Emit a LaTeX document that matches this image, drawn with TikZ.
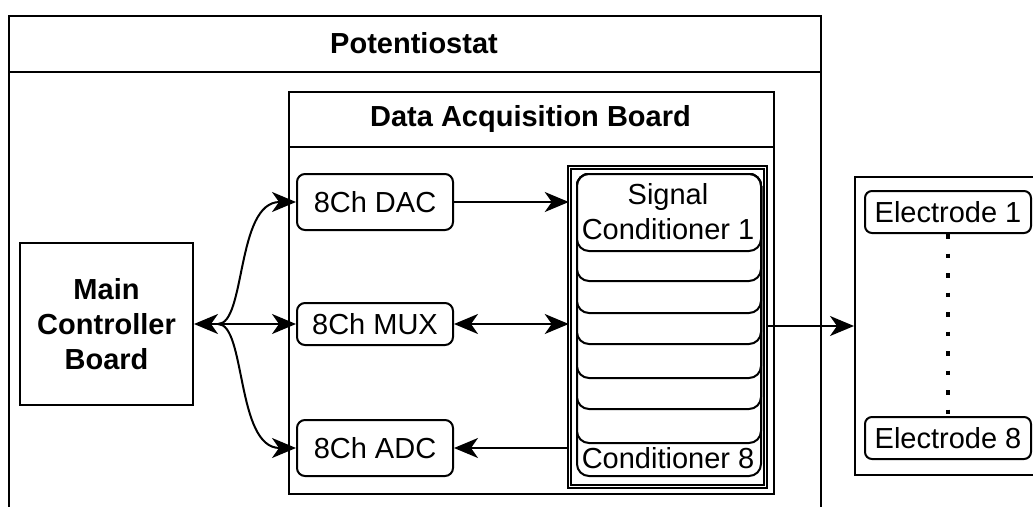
\documentclass[tikz,border=0pt]{standalone}
\usepackage{fontspec}
\setmainfont{Liberation Sans}
\usetikzlibrary{arrows.meta,calc}
\tikzset{
  every node/.style={font=\fontsize{29}{35}\selectfont, inner sep=0pt},
  box/.style={draw, line width=2pt, fill=white},
  rbox/.style={box, rounded corners=8pt},
  cond/.style={box, rounded corners=12pt, minimum width=184pt, anchor=north west},
  arr/.style={line width=2pt, -{Stealth[length=24pt,width=20pt,inset=7pt]}},
  darr/.style={line width=2pt, {Stealth[length=24pt,width=20pt,inset=7pt]}-{Stealth[length=24pt,width=20pt,inset=7pt]}},
  title/.style={font=\fontsize{29}{35}\selectfont\bfseries}
}
\begin{document}
\begin{tikzpicture}[x=1pt,y=-1pt]
\useasboundingbox (0,0) rectangle (1033,506);
\clip (0,0) rectangle (1033,506);
% Potentiostat
\node[box, minimum width=812pt, minimum height=530pt, anchor=north west] (pot) at (8,15) {};
\draw[line width=2pt] (8,72) -- (820,72);
\node[title] (pottitle) at (414,43.5) {Potentiostat};
% Data acquisition board
\node[box, minimum width=485pt, minimum height=402pt, anchor=north west] (dab) at (288,91) {};
\draw[line width=2pt] (288,147) -- (773,147);
\node[title] (dabtitle) at (530.5,119) {Data Acquisition Board};
% Main controller
\node[box, minimum width=173pt, minimum height=162pt, align=center, title] (mcb) at (106.5,324) {Main\\Controller\\Board};
% DAC / MUX / ADC
\node[rbox, minimum width=156pt, minimum height=56pt] (dac) at (375,202) {8Ch DAC};
\node[rbox, minimum width=156pt, minimum height=42pt] (mux) at (375,324) {8Ch MUX};
\node[rbox, minimum width=156pt, minimum height=56pt] (adc) at (375,448) {8Ch ADC};
% Conditioner container
\node[draw, line width=1.5pt, double, double distance=1.5pt, minimum width=196pt, minimum height=319pt] (cc) at (667.5,327) {};
\node[cond, minimum height=302pt] (c8) at (576,173) {};
\node[cond, minimum height=269pt] (c7) at (576,173) {};
\node[cond, minimum height=235pt] (c6) at (576,173) {};
\node[cond, minimum height=204pt] (c5) at (576,173) {};
\node[cond, minimum height=170pt] (c4) at (576,173) {};
\node[cond, minimum height=139pt] (c3) at (576,173) {};
\node[cond, minimum height=107pt] (c2) at (576,173) {};
\node[cond, minimum height=77pt] (c1) at (576,173) {};
\node[align=center] (c1t) at (668,211.5) {Signal\\Conditioner 1};
\node (c8t) at (668,458) {Conditioner 8};
% Electrodes
\node[box, minimum width=220pt, minimum height=298pt, anchor=north west] (eb) at (854,176) {};
\node[rbox, rounded corners=7pt, minimum width=166pt, minimum height=42pt] (e1) at (948,212) {Electrode 1};
\node[rbox, rounded corners=7pt, minimum width=166pt, minimum height=42pt] (e8) at (948,438) {Electrode 8};
\draw[line width=4.5pt, dash pattern=on 4.5pt off 15pt] (e1.south) -- (e8.north);
% Connectors
\coordinate (j) at (218,324);
\draw[darr] (mcb.east) -- (mux.west);
\draw[arr] (j) .. controls (246,324) and (236,202) .. (dac.west);
\draw[arr] (j) .. controls (246,324) and (236,448) .. (adc.west);
\draw[arr] (dac.east) -- (dac.east -| cc.west);
\draw[darr] (mux.east) -- (mux.east -| cc.west);
\draw[arr] (adc.east -| cc.west) -- (adc.east);
\draw[arr] (cc.east |- eb.west) -- (eb.west);
\end{tikzpicture}
\end{document}
